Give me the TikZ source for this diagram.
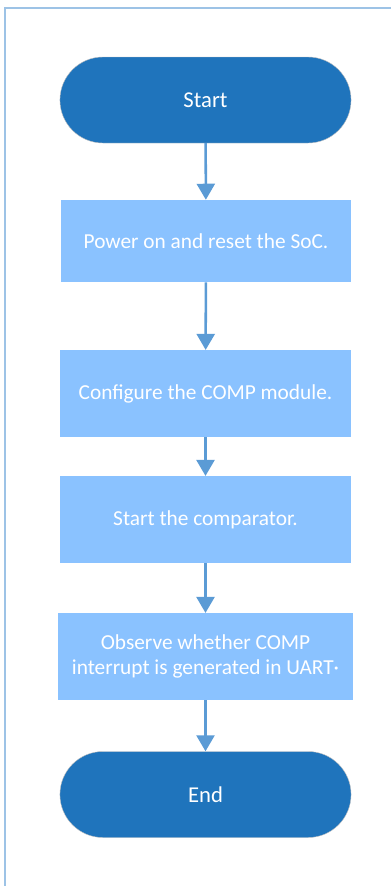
\documentclass[tikz,border=0pt]{standalone}
\usepackage{fontspec}
\setmainfont{Carlito}
\usetikzlibrary{shapes.misc, arrows.meta}
\definecolor{termblue}{RGB}{31,116,188}
\definecolor{stepblue}{RGB}{138,194,255}
\definecolor{flowblue}{RGB}{91,155,213}
\definecolor{frameblue}{RGB}{157,195,230}

\begin{document}
\begin{tikzpicture}[x=0.75pt, y=-0.75pt,
  terminal/.style={rounded rectangle, draw=black!25, line width=0.3pt, fill=termblue, text=white, minimum width=225pt, minimum height=64.5pt, font=\fontsize{17}{20}\selectfont},
  stepbox/.style={rectangle, fill=stepblue, text=white, minimum width=218pt, minimum height=65pt, align=center, font=\fontsize{16}{18.75}\selectfont},
  flow/.style={draw=flowblue, line width=1.9pt, -{Triangle[width=13.5pt, length=12pt]}}]
  \useasboundingbox (0,0) rectangle (391,886);
  \draw[frameblue, line width=1.8pt] (5,886) -- (5,8) -- (391,8);
  \node[terminal] (start) at (205.5,100) {Start};
  \node[stepbox, minimum height=61.5pt] (reset) at (206,241) {Power on and reset the SoC.};
  \node[stepbox] (config) at (205.5,393.5) {Configure the COMP module.};
  \node[stepbox] (run) at (205.5,519.5) {Start the comparator.};
  \node[stepbox, minimum width=221pt] (observe) at (205.5,656.5) {Observe whether COMP\\interrupt is generated in UART\textperiodcentered};
  \node[terminal] (end) at (205.5,794.5) {End};
  \draw[flow] (start) -- (reset);
  \draw[flow] (reset) -- (config);
  \draw[flow] (config) -- (run);
  \draw[flow] (run) -- (observe);
  \draw[flow] (observe) -- (end);
\end{tikzpicture}
\end{document}
